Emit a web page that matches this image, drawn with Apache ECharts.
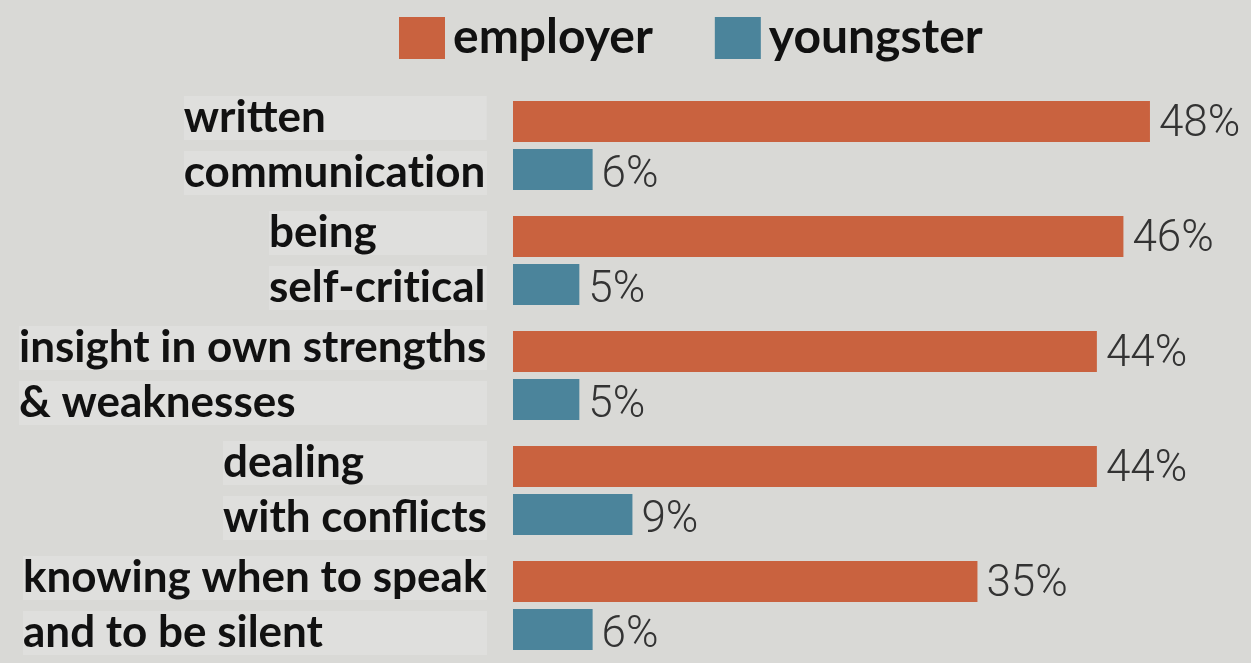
<!DOCTYPE html>
<html>
<head>
<meta charset="utf-8">
<script src="https://cdn.jsdelivr.net/npm/echarts@6/dist/echarts.min.js"></script>
<style>
  html, body { margin: 0; padding: 0; background: #d9d9d6; }
  #chart { width: 1251px; height: 663px; }
</style>
</head>
<body>
<div id="chart"></div>
<script>
// Skills that employers miss versus what youngsters think they lack (%)
const categories = [
  'written\ncommunication',
  'being\nself-critical',
  'insight in own strengths\n& weaknesses',
  'dealing\nwith conflicts',
  'knowing when to speak\nand to be silent'
];
const employer = [48, 46, 44, 44, 35];
const youngster = [6, 5, 5, 9, 6];
const seriesNames = ['employer', 'youngster'];

const ORANGE = '#c9623f';
const BLUE = '#4b849b';
const LABEL_FONT = 'Lato, "Open Sans", sans-serif';
const LABEL_SIZE = 44;

const ctx = document.createElement('canvas').getContext('2d');
ctx.font = 'bold ' + LABEL_SIZE + 'px ' + LABEL_FONT;
const measure = s => ctx.measureText(s).width;

// Widest line of each two-line label; lines share the block's left edge
const blockWidths = categories.map(c =>
  Math.ceil(Math.max(...c.split('\n').map(measure))));

const tokenBase = {
  align: 'left',
  fontFamily: LABEL_FONT,
  fontWeight: 'bold',
  fontSize: LABEL_SIZE,
  lineHeight: 55,
  color: '#111',
  backgroundColor: 'rgba(245,245,243,0.25)'
};

// Each line is drawn as separate pieces at "t|i" so Lato's ti ligature is not used;
// the last piece is widened to the block width to keep a uniform light patch.
const splitLine = line => line.split(/(?<=t)(?=i)/);

function labelLine(line, idx) {
  const parts = splitLine(line);
  let used = 0;
  return parts.map((p, k) => {
    if (k < parts.length - 1) {
      used += measure(p);
      return '{p|' + p + '}';
    }
    return '{c' + idx + '_' + Math.round(blockWidths[idx] - used) + '|' + p + '}';
  }).join('');
}

const rich = { p: Object.assign({}, tokenBase) };
categories.forEach((c, idx) => {
  c.split('\n').forEach(line => {
    const parts = splitLine(line);
    const used = parts.slice(0, -1).reduce((s, p) => s + measure(p), 0);
    const w = Math.round(blockWidths[idx] - used);
    rich['c' + idx + '_' + w] = Object.assign({}, tokenBase, { width: w });
  });
});

const chart = echarts.init(document.getElementById('chart'), null, { renderer: 'canvas' });

const valueLabel = {
  show: true,
  position: 'right',
  distance: 9,
  formatter: p => p.value + '%',
  fontFamily: 'Roboto, "Liberation Sans", sans-serif',
  fontWeight: 300,
  fontSize: 44,
  color: '#333'
};

chart.setOption({
  backgroundColor: '#d9d9d6',
  animation: false,
  legend: {
    top: 9,
    left: 394,
    itemWidth: 46,
    itemHeight: 42,
    itemGap: 62,
    icon: 'rect',
    data: seriesNames,
    textStyle: {
      fontFamily: LABEL_FONT,
      fontWeight: 'bold',
      fontSize: 48,
      color: '#111',
      padding: [0, 0, 0, 3]
    }
  },
  grid: {
    left: 513,
    top: 88,
    height: 580,
    width: 663.5,
    containLabel: false
  },
  xAxis: {
    type: 'value',
    min: 0,
    max: 50,
    show: false
  },
  yAxis: {
    type: 'category',
    inverse: true,
    data: categories,
    axisLine: { show: false },
    axisTick: { show: false },
    splitLine: { show: false },
    axisLabel: {
      margin: 26,
      formatter: (value, idx) =>
        value.split('\n').map(l => labelLine(l, idx)).join('\n'),
      rich: rich
    }
  },
  series: [
    {
      name: seriesNames[0],
      type: 'bar',
      data: employer,
      barWidth: 41,
      barGap: '17%',
      itemStyle: { color: ORANGE },
      label: Object.assign({}, valueLabel, { offset: [0, 3] })
    },
    {
      name: seriesNames[1],
      type: 'bar',
      data: youngster,
      barWidth: 41,
      itemStyle: { color: BLUE },
      label: Object.assign({}, valueLabel, { offset: [0, 7] })
    }
  ]
});
</script>
</body>
</html>
